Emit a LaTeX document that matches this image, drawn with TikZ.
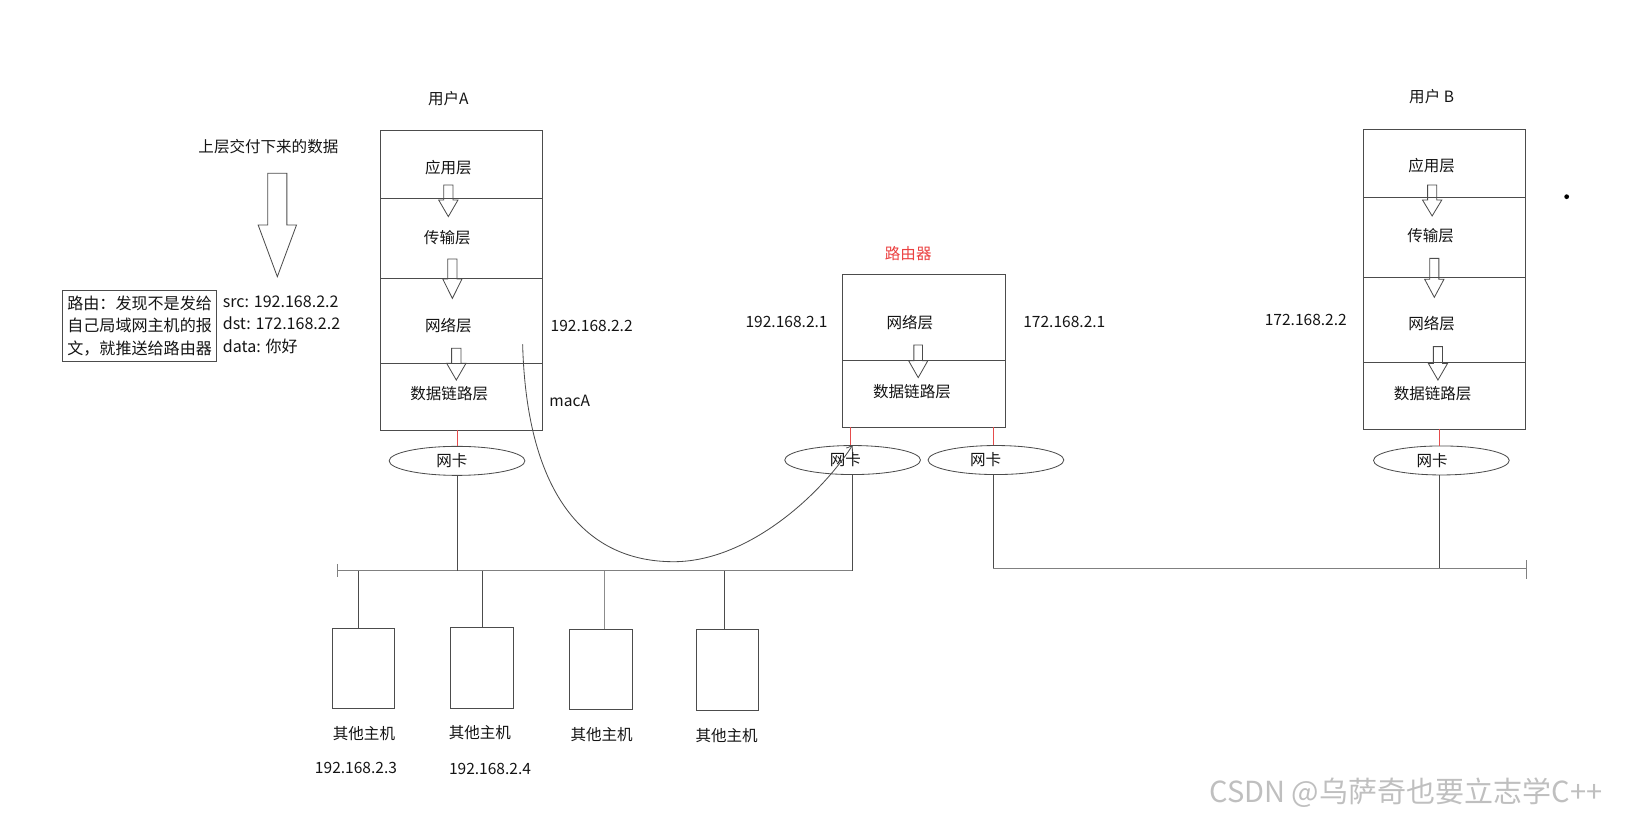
\documentclass[tikz,border=0pt]{standalone}
\usepackage{fontspec}
\setmainfont{Noto Sans CJK SC}
\usetikzlibrary{shapes.geometric}
\usetikzlibrary{positioning}
\usetikzlibrary{arrows.meta}

\definecolor{edge}{gray}{0.3}
\definecolor{tapred}{rgb}{0.9,0.3,0.3}
\definecolor{routerred}{rgb}{0.92,0.25,0.25}

% hollow down arrow: x, top, neck, tip, shaft half, head half
\newcommand{\hollowdown}[6]{\draw[edge,line width=0.8pt] (#1-#5,#2) -- (#1+#5,#2) -- (#1+#5,#3) -- (#1+#6,#3) -- (#1,#4) -- (#1-#6,#3) -- (#1-#5,#3) -- cycle;}

\begin{document}
\begin{tikzpicture}[x=1pt,y=-1pt,
  every node/.style={text=black!92},
  layer/.style={draw=edge, line width=0.9pt, minimum width=156pt, inner sep=0pt, outer sep=0pt},
  nic/.style={draw=edge, ellipse, line width=0.8pt, minimum width=131pt, minimum height=28pt, inner sep=0pt},
  host/.style={draw=edge, line width=0.9pt, minimum width=60.5pt, minimum height=77.5pt, inner sep=0pt},
  lbl/.style={font=\fontsize{15}{18}\selectfont},
  bus/.style={draw=black!50, line width=1.4pt},
  drop/.style={draw=edge, line width=0.9pt},
  tap/.style={draw=tapred, line width=0.6pt}]
\useasboundingbox (0,0) rectangle (1568,784);

% user A
\node[layer, minimum height=65.4pt, anchor=north] (A1) at (445.3,126) {};
\node[layer, minimum height=77.2pt, below=0pt of A1] (A2) {};
\node[layer, minimum height=82pt, below=0pt of A2] (A3) {};
\node[layer, minimum height=64.3pt, below=0pt of A3] (A4) {};
\node[lbl] (userA) at (432.6,94.9) {用户A};
\node[lbl] (tA1) at (432.6,161.5) {应用层};
\node[lbl] (tA2) at (431.6,229) {传输层};
\node[lbl] (tA3) at (432.6,314.6) {网络层};
\node[lbl] (tA4) at (433.5,380.2) {数据链路层};
\hollowdown{432.6}{178.5}{193}{209}{4.5}{9.3}
\hollowdown{436.5}{249.9}{269.2}{287.9}{4.5}{9.3}
\hollowdown{440.3}{336.1}{350.6}{366.7}{4.5}{9.3}
\node[lbl] (ipA) at (570.9,314.6) {192.168.2.2};
\node[lbl, anchor=west, inner sep=0pt] (macA) at (530,386.6) {macA};

% data handed down
\node[lbl] (handdown) at (259,141.5) {上层交付下来的数据};
\hollowdown{267.6}{167.2}{217.1}{267}{9.2}{18.5}
\node[draw=edge, line width=0.9pt, align=left, inner xsep=4.5pt, minimum width=148.5pt, minimum height=69.2pt,
  font=\fontsize{15.5}{21.7}\selectfont] (route) at (134.75,314.4) {路由：发现不是发给\\自己局域网主机的报\\文，就推送给路由器};
\node[anchor=west, align=left, inner sep=0pt, font=\fontsize{15.5}{21.7}\selectfont] (pkt) at (214.8,313)
  {src: 192.168.2.2\\dst: 172.168.2.2\\data: 你好};

% router
\node[layer, minimum width=156.7pt, minimum height=82.7pt, anchor=north] (R1) at (891.4,264.7) {};
\node[layer, minimum width=156.7pt, minimum height=65pt, below=0pt of R1] (R2) {};
\node[lbl, text=routerred] (router) at (876.4,245) {路由器};
\node[lbl] (tR1) at (878,311.3) {网络层};
\node[lbl] (tR2) at (880,378) {数据链路层};
\hollowdown{886}{332.9}{348}{364.4}{4.2}{9.3}
\node[lbl] (ipR1) at (759,310.4) {192.168.2.1};
\node[lbl] (ipR2) at (1027,311) {172.168.2.1};

% user B
\node[layer, minimum width=156.5pt, minimum height=65.6pt, anchor=north] (B1) at (1393.7,125.4) {};
\node[layer, minimum width=156.5pt, minimum height=77.2pt, below=0pt of B1] (B2) {};
\node[layer, minimum width=156.5pt, minimum height=81.8pt, below=0pt of B2] (B3) {};
\node[layer, minimum width=156.5pt, minimum height=64.3pt, below=0pt of B3] (B4) {};
\node[lbl] (userB) at (1381.4,93.3) {用户 B};
\node[lbl] (tB1) at (1381.4,160.2) {应用层};
\node[lbl] (tB2) at (1380.4,227.7) {传输层};
\node[lbl] (tB3) at (1381.4,312.6) {网络层};
\node[lbl] (tB4) at (1382.4,379.5) {数据链路层};
\hollowdown{1381.9}{178.5}{193}{208.4}{4.4}{9.3}
\hollowdown{1384}{249.3}{269.5}{286.9}{4.4}{9.3}
\hollowdown{1387.5}{334.5}{350.6}{366.7}{4.4}{9.3}
\node[lbl] (ipB) at (1260,308.8) {172.168.2.2};
\fill[black] (1511.7,189.8) circle (2.3);

% network cards
\node[nic, label={[lbl, xshift=-5pt]center:网卡}] (nicA) at (441,444.7) {};
\node[nic, label={[lbl, xshift=-7pt]center:网卡}] (nicR1) at (822.7,443.9) {};
\node[nic, label={[lbl, xshift=-10pt]center:网卡}] (nicR2) at (961,443.9) {};
\node[nic, label={[lbl, xshift=-9pt]center:网卡}] (nicB) at (1390.8,444.3) {};
\draw[tap] (nicA.north |- A4.south) -- (nicA.north);
\draw[tap] ([xshift=-2pt]nicR1.north |- R2.south) -- ([xshift=-2pt]nicR1.north);
\draw[tap] ([xshift=-2.5pt]nicR2.north |- R2.south) -- ([xshift=-2.5pt]nicR2.north);
\draw[tap] ([xshift=-2pt]nicB.north |- B4.south) -- ([xshift=-2pt]nicB.north);

% left segment
\coordinate (busL) at (325.5,550.5);
\draw[bus] (busL) -- (nicR1.south |- busL);
\draw[bus] ([yshift=6.5pt]busL) -- ([yshift=-6.5pt]busL);
\draw[drop] (nicA.south) -- (nicA.south |- busL);
\draw[drop] (nicR1.south) -- (nicR1.south |- busL);

% right segment
\coordinate (busR) at (1473,548.4);
\draw[bus] ([xshift=-2.5pt]nicR2.south |- busR) -- (busR);
\draw[bus] ([yshift=8pt]busR) -- ([yshift=-10pt]busR);
\draw[drop] ([xshift=-2.5pt]nicR2.south) -- ([xshift=-2.5pt]nicR2.south |- busR);
\draw[drop] ([xshift=-2pt]nicB.south) -- ([xshift=-2pt]nicB.south |- busR);

% other hosts
\node[host] (h1) at (350.6,644.9) {};
\node[host] (h2) at (465.3,644.6) {};
\node[host] (h3) at (579.7,645.7) {};
\node[host] (h4) at (702,646.5) {};
\draw[drop] ([xshift=-5pt]h1.north) -- ([xshift=-5pt]h1.north |- busL);
\draw[drop] (h2.north) -- (h2.north |- busL);
\draw[drop, draw=black!45, line width=0.7pt] ([xshift=3pt]h3.north) -- ([xshift=3pt]h3.north |- busL);
\draw[drop] ([xshift=-2.5pt]h4.north) -- ([xshift=-2.5pt]h4.north |- busL);
\node[lbl] (oh1) at (351.2,708.2) {其他主机};
\node[lbl] (oh2) at (463.1,707) {其他主机};
\node[lbl] (oh3) at (580.5,709.2) {其他主机};
\node[lbl] (oh4) at (701.2,710.2) {其他主机};
\node[lbl] (ip1) at (343.5,740.7) {192.168.2.3};
\node[lbl] (ip2) at (472.8,742.3) {192.168.2.4};

% path of the packet
\coordinate (pktStart) at (504.3,332.2);
\draw[edge, line width=0.8pt, -{Straight Barb[length=5pt,width=7pt]}] (pktStart) .. controls (508,470) and (560,542) .. (650,542)
  .. controls (720,542) and (790,480) .. (nicR1.north);

\node[text=black!25, font=\fontsize{28}{32}\selectfont] (wm) at (1356.5,764.8) {CSDN @乌萨奇也要立志学C++};
\end{tikzpicture}
\end{document}
